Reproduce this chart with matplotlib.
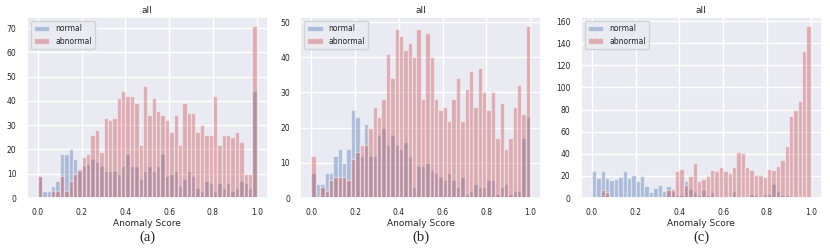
import numpy as np
import matplotlib
matplotlib.use('Agg')
import matplotlib.pyplot as plt
import seaborn as sns

# 50 bins of width 0.02 on [0, 1]
edges = np.linspace(0, 1, 51)

normal_a = [9, 3, 3, 5, 7, 18, 18, 20, 16, 11,
            13, 14, 16, 15, 13, 11, 11, 11, 10, 13,
            18, 13, 13, 8, 11, 13, 11, 13, 18, 9,
            10, 11, 5, 8, 11, 9, 4, 3, 7, 6,
            3, 6, 4, 6, 3, 4, 7, 6, 4, 44]
abnormal_a = [9, 0, 0, 3, 3, 9, 3, 7, 10, 12,
              17, 18, 26, 28, 19, 33, 32, 33, 41, 44,
              42, 42, 39, 22, 46, 34, 41, 36, 34, 32,
              27, 34, 22, 39, 35, 35, 27, 30, 26, 26,
              42, 22, 26, 26, 25, 27, 23, 10, 10, 71]

normal_b = [7, 4, 4, 7, 7, 12, 14, 10, 14, 25,
            23, 12, 21, 12, 12, 18, 20, 15, 18, 15,
            14, 16, 12, 3, 9, 9, 10, 8, 7, 6,
            5, 7, 5, 3, 6, 1, 2, 4, 3, 3,
            5, 5, 1, 3, 4, 1, 2, 2, 17, 23]
abnormal_b = [12, 0, 3, 2, 5, 6, 6, 6, 5, 11,
              13, 15, 15, 20, 26, 23, 28, 41, 34, 48,
              46, 42, 44, 40, 48, 28, 47, 40, 28, 25,
              26, 22, 28, 34, 22, 31, 36, 26, 37, 30,
              25, 30, 17, 27, 14, 17, 26, 32, 24, 49]

normal_c = [24, 18, 24, 18, 16, 17, 19, 24, 18, 21,
            15, 20, 11, 5, 9, 12, 6, 11, 6, 3,
            3, 15, 8, 5, 3, 7, 3, 5, 1, 1,
            0, 1, 6, 2, 2, 0, 4, 3, 2, 4,
            4, 13, 6, 3, 3, 0, 0, 0, 0, 0]
abnormal_c = [0, 0, 7, 5, 0, 0, 0, 0, 0, 0,
              0, 1, 0, 0, 0, 1, 0, 7, 8, 24,
              26, 12, 20, 32, 15, 17, 20, 25, 24, 28,
              24, 23, 28, 42, 41, 28, 25, 21, 21, 19,
              26, 25, 29, 34, 47, 74, 80, 88, 133, 156]

panels = [(normal_a, abnormal_a, '(a)'),
          (normal_b, abnormal_b, '(b)'),
          (normal_c, abnormal_c, '(c)')]

sns.set_theme()
fig = plt.figure(figsize=(8.3, 2.5), dpi=100)

lefts = [0.0325, 0.362, 0.700]
centers = (edges[:-1] + edges[1:]) / 2

for left, (normal, abnormal, tag) in zip(lefts, panels):
    ax = fig.add_axes([left, 0.208, 0.290, 0.724])
    ax.hist(centers, bins=edges, weights=normal, color='b', alpha=0.4, label='normal')
    ax.hist(centers, bins=edges, weights=abnormal, color='r', alpha=0.4, label='abnormal')
    ax.set_title('all', fontsize=6.5, pad=3)
    ax.set_xlabel('Anomaly Score', fontsize=6.5, labelpad=1)
    ax.tick_params(labelsize=5.5, pad=1.5)
    ax.legend(loc='upper left', fontsize=5.5)
    fig.text(left + 0.145, 0.052, tag, family='Liberation Serif', fontsize=10.5,
             ha='center', va='center')

fig.savefig('out.png', dpi=100)
